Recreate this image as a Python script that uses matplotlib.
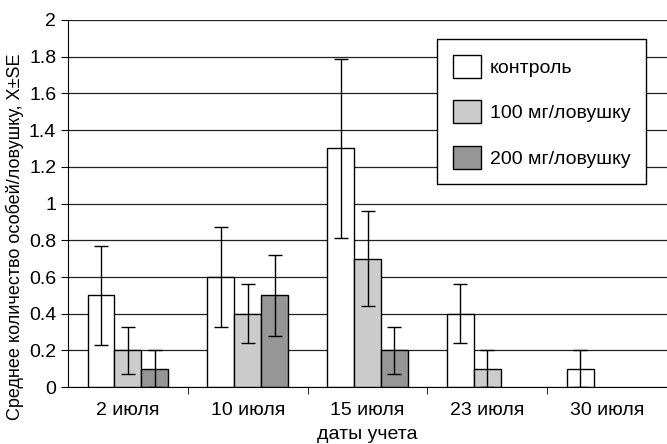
import numpy as np
import matplotlib.pyplot as plt

dates = ['2 июля', '10 июля', '15 июля', '23 июля', '30 июля']
series = ['контроль', '100 мг/ловушку', '200 мг/ловушку']
control = [0.5, 0.6, 1.3, 0.4, 0.1]
control_se = [0.27, 0.27, 0.49, 0.16, 0.1]
dose100 = [0.2, 0.4, 0.7, 0.1, 0.0]
dose100_se = [0.13, 0.16, 0.26, 0.1, 0.0]
dose200 = [0.1, 0.5, 0.2, 0.0, 0.0]
dose200_se = [0.1, 0.22, 0.13, 0.0, 0.0]

plt.rcParams['font.family'] = ['Liberation Sans', 'DejaVu Sans']

fig = plt.figure(figsize=(6.67, 4.44), dpi=100)
ax = fig.add_axes([0.102, 0.128, 0.898, 0.827])

x = np.arange(len(dates))
w = 0.225
colors = ['#ffffff', '#cccccc', '#969696']
vals = [control, dose100, dose200]
errs = [control_se, dose100_se, dose200_se]

for i in range(3):
    pos = x + (i - 1) * w
    v = np.array(vals[i])
    e = np.array(errs[i])
    nz = v > 0
    ax.bar(pos[nz], v[nz], width=w, color=colors[i], edgecolor='black',
           linewidth=1.0, label=series[i], zorder=2)
    mask = e > 0
    ax.errorbar(pos[mask], v[mask], yerr=e[mask], fmt='none', ecolor='black',
                elinewidth=1.0, capsize=5, capthick=1.0, zorder=3)

ax.set_xlim(-0.5, len(dates) - 0.5)
ax.set_ylim(0, 2)
ax.set_yticks(np.arange(0, 2.01, 0.2))
ax.set_yticklabels(['0', '0.2', '0.4', '0.6', '0.8', '1', '1.2', '1.4', '1.6', '1.8', '2'])
ax.yaxis.grid(True, color='#222222', linewidth=0.9, zorder=0)
ax.set_axisbelow(True)

ax.set_xticks(x)
ax.set_xticklabels(dates)
ax.set_xticks(np.arange(0.5, len(dates) - 0.5, 1), minor=True)
ax.tick_params(axis='x', which='major', length=0, labelsize=14, pad=11)
ax.tick_params(axis='x', which='minor', length=5, direction='out', color='black')
ax.tick_params(axis='y', length=5, direction='out', labelsize=14, color='black')

for s in ['top', 'right']:
    ax.spines[s].set_visible(False)
ax.spines['left'].set_color('black')
ax.spines['bottom'].set_color('black')

ax.set_xlabel('даты учета', fontsize=14, labelpad=5)
ax.set_ylabel('Среднее количество особей/ловушку, X±SE', fontsize=13)
ax.yaxis.set_label_coords(-0.073, 0.41)

leg = ax.legend(loc='upper right', bbox_to_anchor=(0.965, 0.948), fontsize=14,
                frameon=True, fancybox=False, edgecolor='black', framealpha=1,
                handlelength=1.45, handleheight=1.45, labelspacing=1.15,
                borderpad=0.8, handletextpad=0.45, borderaxespad=0)
leg.get_frame().set_linewidth(1.0)

fig.savefig('out.png', dpi=100)
